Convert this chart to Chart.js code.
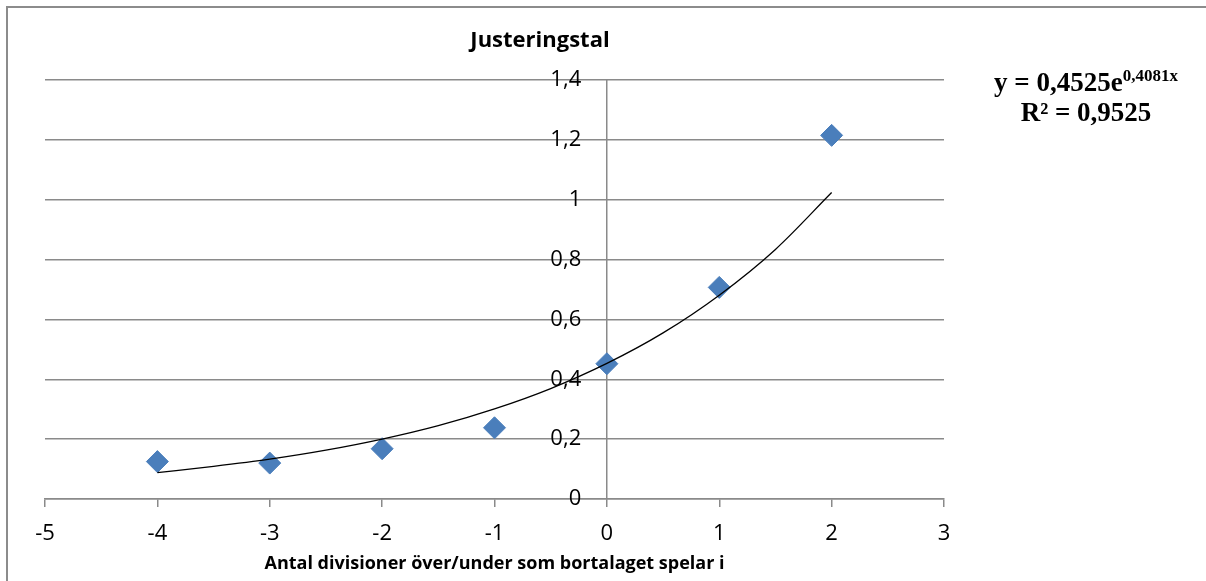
<!DOCTYPE html>
<html>
<head>
<meta charset="utf-8">
<title>Justeringstal</title>
<script src="https://cdn.jsdelivr.net/npm/chart.js@4.4.1/dist/chart.umd.min.js"></script>
<style>
  html, body { margin: 0; padding: 0; background: #fff; overflow: hidden; }
  #wrap { position: relative; width: 1206px; height: 581px; }
  #frame { position: absolute; left: 6px; top: 6px; width: 1230px; height: 620px;
           border: 2px solid #8c8c8c; box-sizing: border-box; pointer-events: none; }
</style>
</head>
<body>
<div id="wrap">
  <canvas id="myChart" width="1206" height="581"></canvas>
  <div id="frame"></div>
</div>
<script>
// data
var pointX = [-4, -3, -2, -1, 0, 1, 2];
var pointY = [0.125, 0.12, 0.168, 0.238, 0.452, 0.707, 1.215];

// exponential trendline, y = 0,4525e^(0,4081x), read at half steps
var trendX = [-4, -3.5, -3, -2.5, -2, -1.5, -1, -0.5, 0, 0.5, 1, 1.5, 2];
var trendY = [0.088, 0.109, 0.133, 0.163, 0.200, 0.245, 0.301, 0.369, 0.453, 0.555, 0.681, 0.834, 1.024];

var yTickLabels = ['0', '0,2', '0,4', '0,6', '0,8', '1', '1,2', '1,4'];
var xTickLabels = ['-5', '-4', '-3', '-2', '-1', '0', '1', '2', '3'];

var chartTitle = 'Justeringstal';
var xAxisTitle = 'Antal divisioner över/under som bortalaget spelar i';
var eqMain = 'y = 0,4525e';
var eqExp = '0,4081x';
var eqR2 = 'R² = 0,9525';

var gridColor = '#8a8a8a';
var markerColor = '#4a7ebb';
var boldFont = '"Open Sans"';

function toPoints(xs, ys) {
    var out = [];
    for (var i = 0; i < xs.length; i++) {
        out.push({ x: xs[i], y: ys[i] });
    }
    return out;
}

// title and trendline equation, drawn where Excel put them
var textPlugin = {
    id: 'excelText',
    afterDraw: function(chart) {
        var ctx = chart.ctx;
        ctx.save();
        ctx.fillStyle = '#000';
        ctx.textBaseline = 'alphabetic';

        ctx.font = 'bold 22px ' + boldFont;
        ctx.textAlign = 'center';
        ctx.fillText(chartTitle, 540, 47);

        // equation, Times-like bold
        var cx = 1086;
        ctx.font = 'bold 27px "Liberation Serif"';
        var w1 = ctx.measureText(eqMain).width;
        ctx.font = 'bold 17px "Liberation Serif"';
        var w2 = ctx.measureText(eqExp).width;
        var left = cx - (w1 + w2) / 2;
        ctx.textAlign = 'left';
        ctx.font = 'bold 27px "Liberation Serif"';
        ctx.fillText(eqMain, left, 91);
        ctx.font = 'bold 17px "Liberation Serif"';
        ctx.fillText(eqExp, left + w1, 81);

        ctx.textAlign = 'center';
        ctx.font = 'bold 27px "Liberation Serif"';
        ctx.fillText(eqR2, cx, 121);
        ctx.restore();
    }
};

var canvas = document.getElementById("myChart");
var ctx = canvas.getContext("2d");

var myNewChart = new Chart(ctx, {
    type: 'scatter',
    data: {
        datasets: [{
            label: 'Trend',
            data: toPoints(trendX, trendY),
            showLine: true,
            borderColor: '#000',
            borderWidth: 1.3,
            pointRadius: 0,
            cubicInterpolationMode: 'monotone',
            fill: false
        }, {
            label: 'Justeringstal',
            data: toPoints(pointX, pointY),
            pointStyle: 'rectRot',
            pointRadius: 11,
            pointHoverRadius: 11,
            backgroundColor: markerColor,
            borderColor: markerColor,
            borderWidth: 1,
            showLine: false
        }]
    },
    options: {
        responsive: false,
        animation: false,
        events: [],
        layout: { padding: { left: 45, right: 262, top: 80, bottom: 6 } },
        plugins: {
            legend: { display: false },
            tooltip: { enabled: false },
            title: { display: false }
        },
        scales: {
            x: {
                type: 'linear',
                min: -5,
                max: 3,
                // fixed axis height so the plot ends at y = 0 where Excel has it
                afterFit: function(scale) { scale.height = 76; },
                ticks: {
                    stepSize: 1,
                    color: '#000',
                    font: { family: 'Open Sans', size: 22 },
                    padding: 14,
                    callback: function(v, i) { return xTickLabels[i]; }
                },
                grid: {
                    drawOnChartArea: false,
                    drawTicks: true,
                    tickLength: 8,
                    color: gridColor,
                    lineWidth: 1.5
                },
                border: { color: gridColor, width: 1.5 },
                title: {
                    display: true,
                    text: xAxisTitle,
                    color: '#000',
                    font: { family: 'Open Sans', size: 18, weight: 'bold' },
                    padding: { top: 0, bottom: 0 }
                }
            },
            y: {
                type: 'linear',
                position: { x: 0 },
                min: 0,
                max: 1.4,
                ticks: {
                    stepSize: 0.2,
                    color: '#000',
                    font: { family: 'Open Sans', size: 22 },
                    // the label padding is not applied to an axis placed at x = 0,
                    // so an em space keeps the labels off the axis line
                    callback: function(v, i) { return yTickLabels[i] + '\u2003\u2009'; }
                },
                grid: {
                    drawTicks: false,
                    color: gridColor,
                    lineWidth: 1.5
                },
                border: { color: gridColor, width: 1.5 }
            }
        }
    },
    plugins: [textPlugin]
});
</script>
</body>
</html>
